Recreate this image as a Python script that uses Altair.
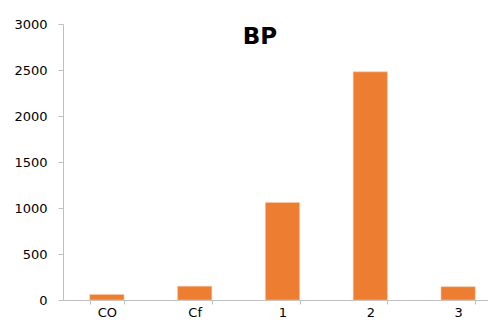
import altair as alt
import pandas as pd

categories = ["CO", "Cf", "1", "2", "3"]
values = [60, 150, 1060, 2480, 145]
y_ticks = [0, 500, 1000, 1500, 2000, 2500, 3000]
title_text = ["BP"]

df = pd.DataFrame({"cat": categories, "val": values})

FONT = "DejaVu Sans"

bars = alt.Chart(df).mark_bar(color="#ED7D31", stroke="#F7C9A8", strokeWidth=0.6).encode(
    x=alt.X("cat:N", sort=categories, title=None,
            scale=alt.Scale(paddingInner=0.61, paddingOuter=0.305, range=[0, 439]),
            axis=alt.Axis(labelAngle=0, tickBand="extent", domainColor="#bfbfbf",
                          tickColor="#bfbfbf", tickSize=4, labelPadding=2,
                          labelFont=FONT, labelFontSize=13, labelColor="#000000",
                          grid=False)),
    y=alt.Y("val:Q", title=None,
            scale=alt.Scale(domain=[0, 3000], nice=False),
            axis=alt.Axis(values=y_ticks, format="d", domainColor="#bfbfbf",
                          tickColor="#bfbfbf", tickSize=5, labelPadding=11,
                          labelFont=FONT, labelFontSize=13, labelColor="#000000",
                          grid=False)),
)

title = alt.Chart(pd.DataFrame({"t": title_text})).mark_text(
    font=FONT, fontSize=23, fontWeight="bold", color="#000000",
    align="center", baseline="middle"
).encode(text="t:N", x=alt.value(197), y=alt.value(13))

chart = alt.layer(bars, title).properties(
    width=425, height=276,
    autosize=alt.AutoSizeParams(type="none"),
    padding={"left": 55, "top": 16, "right": 0, "bottom": 19},
).configure_view(stroke=None)

chart.save("out.html", embed_options={"renderer": "svg", "actions": False})
